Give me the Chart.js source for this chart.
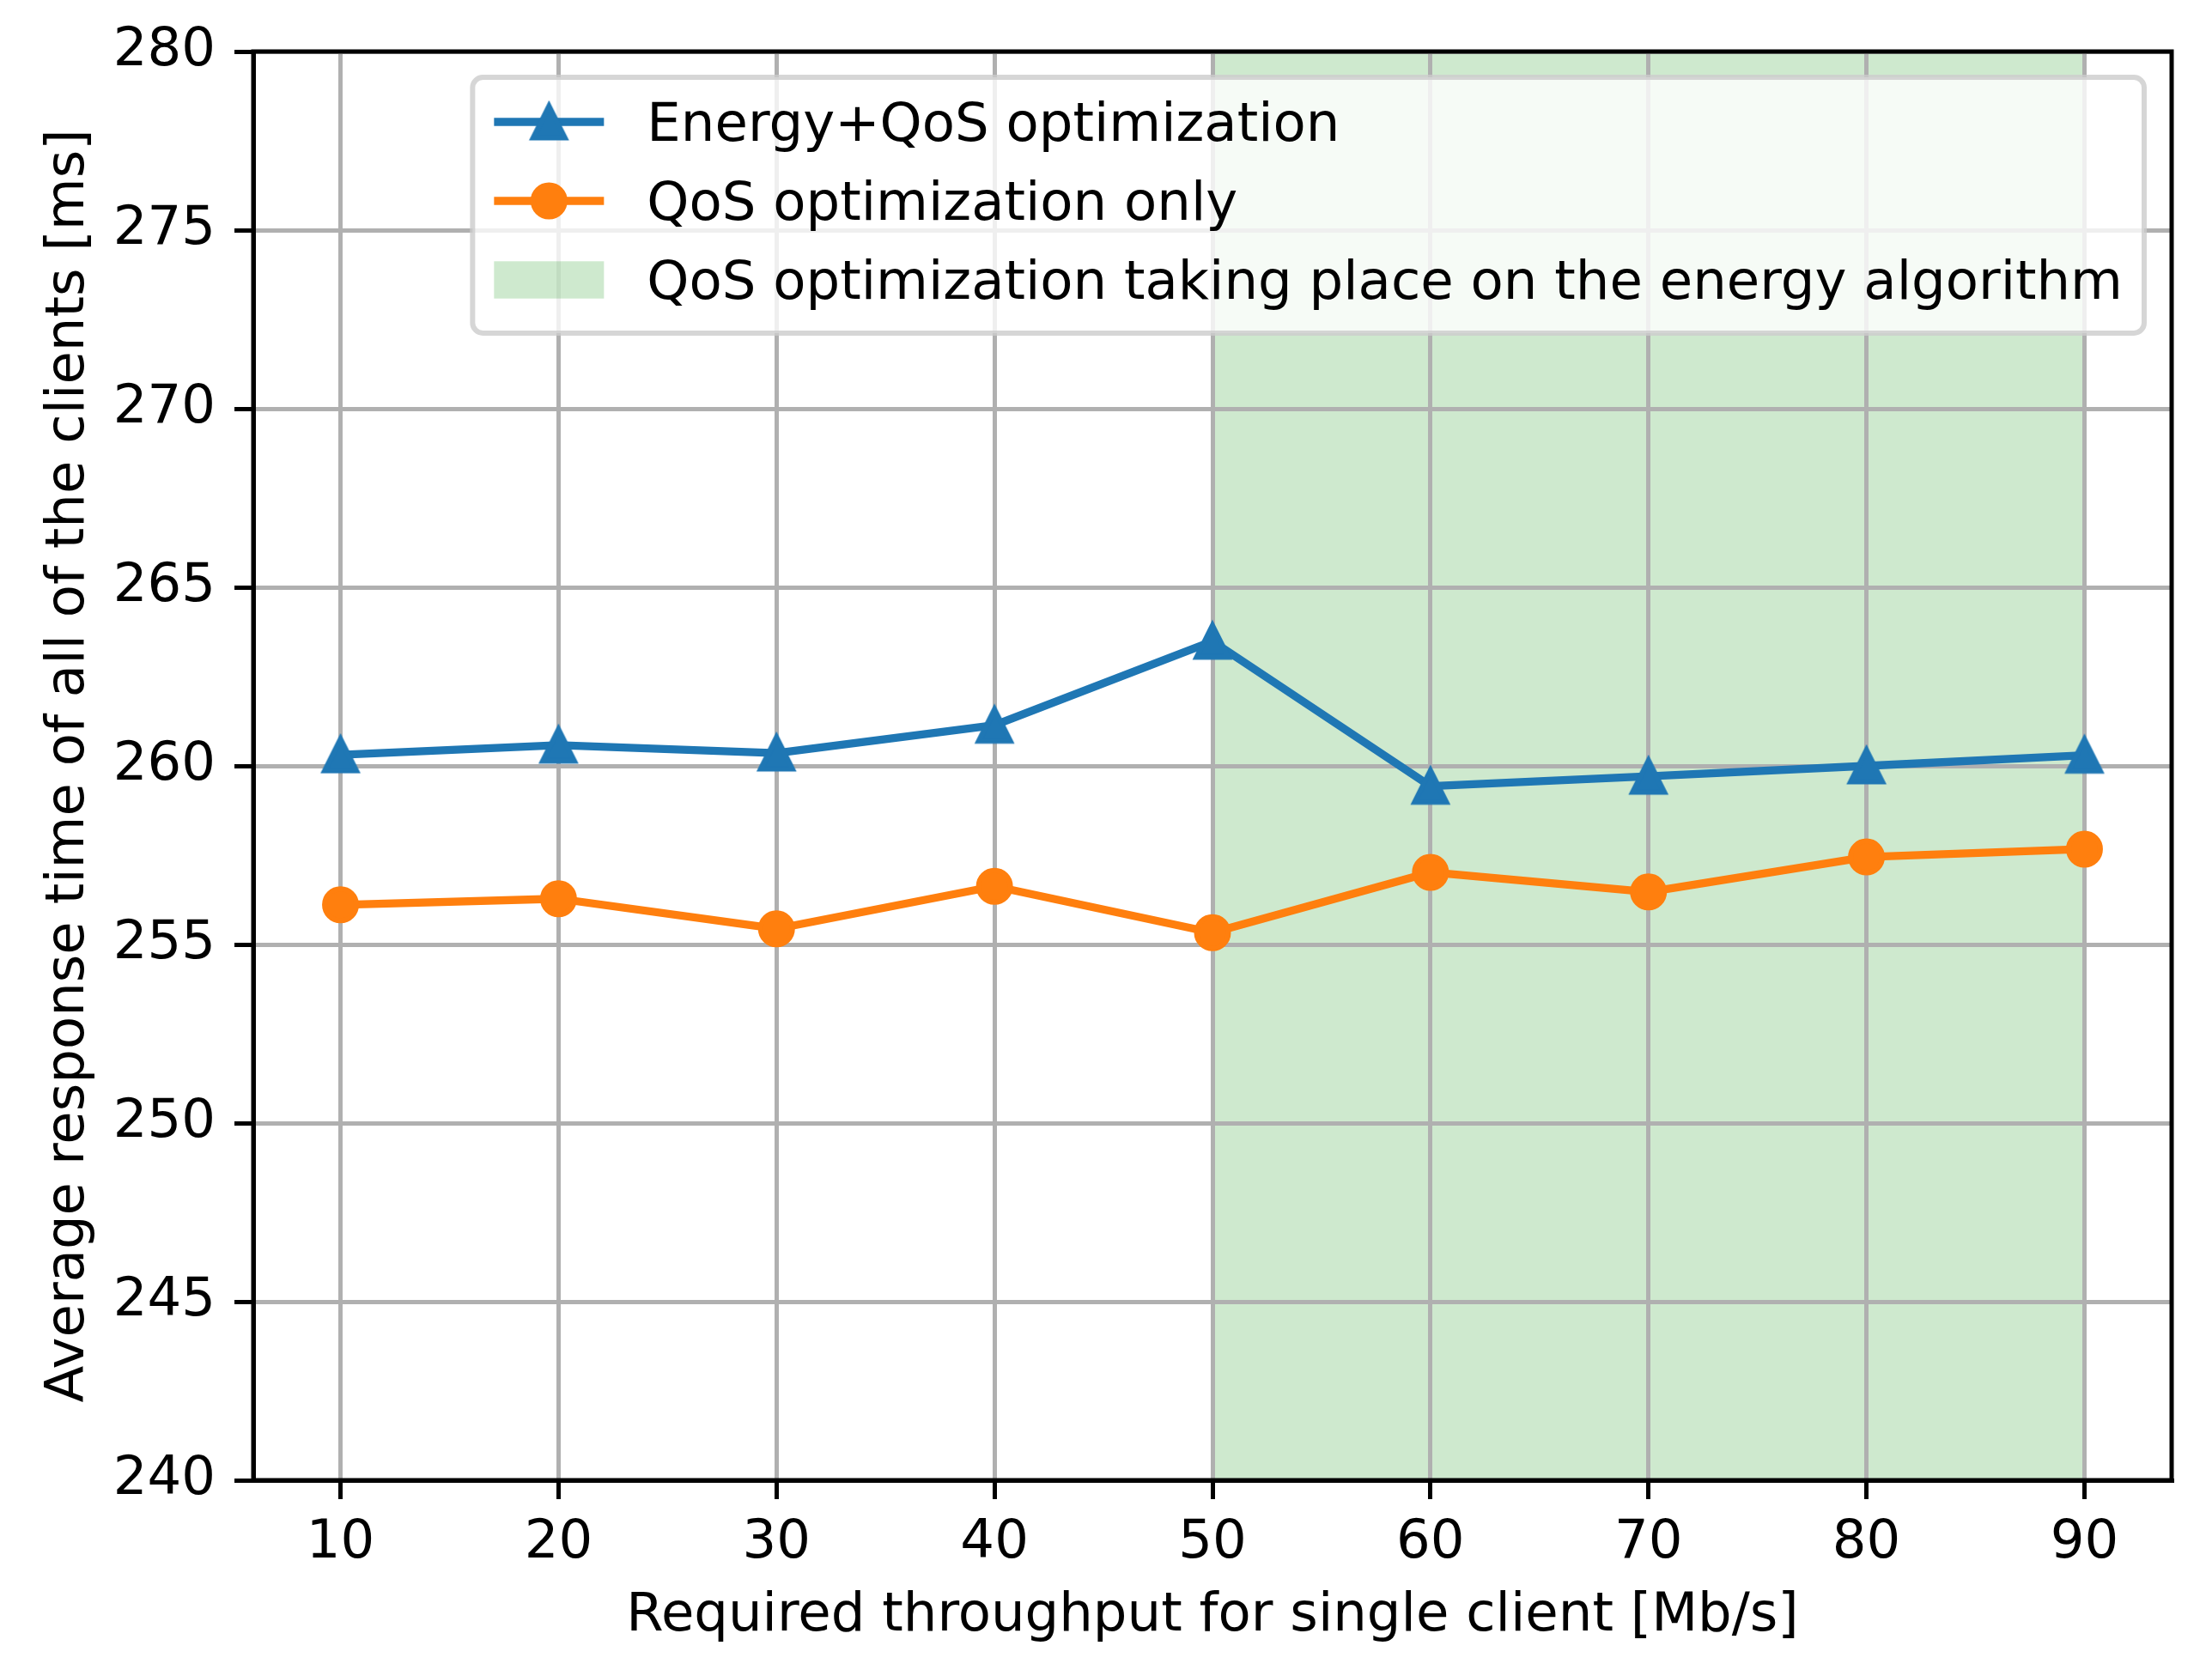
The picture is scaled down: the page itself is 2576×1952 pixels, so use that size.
<!DOCTYPE html>
<html>
<head>
<meta charset="utf-8">
<script src="https://cdn.jsdelivr.net/npm/chart.js@4.4.0/dist/chart.umd.min.js"></script>
<style>
  html, body { margin: 0; padding: 0; background: #fff; }
  canvas { display: block; }
</style>
</head>
<body>
<canvas id="chart" width="2576" height="1952" style="width:2576px;height:1952px"></canvas>
<script>
// data
const throughput = [10, 20, 30, 40, 50, 60, 70, 80, 90];
const energyQos = [260.31, 260.58, 260.36, 261.14, 263.49, 259.43, 259.71, 260.0, 260.3];
const qosOnly = [256.11, 256.28, 255.44, 256.63, 255.33, 257.02, 256.47, 257.45, 257.67];
const qosRegion = [50, 90];
const xTicks = [10, 20, 30, 40, 50, 60, 70, 80, 90];
const yTicks = [240, 245, 250, 255, 260, 265, 270, 275, 280];
const seriesLabels = [
  'Energy+QoS optimization',
  'QoS optimization only',
  'QoS optimization taking place on the energy algorithm'
];

const BLUE = '#1f77b4', ORANGE = '#ff7f0e', SHADE = 'rgba(44,160,44,0.23)';
const FS = 62.5;

Chart.defaults.font.family = "'DejaVu Sans'";
Chart.defaults.font.size = FS;
Chart.defaults.color = '#000';

// matplotlib style '^' marker
function triangleMarker(color) {
  const c = document.createElement('canvas');
  c.width = 64; c.height = 64;
  const g = c.getContext('2d');
  const h = 18.5;
  g.beginPath();
  g.moveTo(32, 32 - h);
  g.lineTo(32 + h, 32 + h);
  g.lineTo(32 - h, 32 + h);
  g.closePath();
  g.fillStyle = color;
  g.fill();
  g.lineWidth = 6;
  g.lineJoin = 'miter';
  g.strokeStyle = color;
  g.stroke();
  return c;
}
const tri = triangleMarker(BLUE);

const framePlugin = {
  id: 'frame',
  afterDatasetsDraw(chart) {
    const {ctx, chartArea: a} = chart;
    ctx.save();
    ctx.strokeStyle = '#000';
    ctx.lineWidth = 5;
    ctx.strokeRect(a.left, a.top, a.right - a.left, a.bottom - a.top);
    ctx.restore();
  }
};

const legendPlugin = {
  id: 'mplLegend',
  afterDraw(chart) {
    const {ctx, chartArea: a} = chart;
    ctx.save();
    ctx.font = FS + "px 'DejaVu Sans'";
    const pad = 25, handle = 128, textPad = 50;
    let tw = 0;
    seriesLabels.forEach(t => { tw = Math.max(tw, ctx.measureText(t).width); });
    const right = a.right - 32, top = a.top + 30;
    const left = right - (pad + handle + textPad + tw + pad);
    const bottom = top + 298;

    ctx.beginPath();
    ctx.roundRect(left, top, right - left, bottom - top, 12);
    ctx.fillStyle = 'rgba(255,255,255,0.8)';
    ctx.fill();
    ctx.lineWidth = 6;
    ctx.strokeStyle = 'rgba(204,204,204,0.8)';
    ctx.stroke();

    const x0 = left + pad, x1 = x0 + handle, xm = (x0 + x1) / 2;
    seriesLabels.forEach((t, i) => {
      const y = top + 52 + i * 92;
      if (i < 2) {
        const col = i === 0 ? BLUE : ORANGE;
        ctx.beginPath();
        ctx.moveTo(x0, y); ctx.lineTo(x1, y);
        ctx.lineWidth = 9.3; ctx.strokeStyle = col; ctx.stroke();
        if (i === 0) {
          ctx.drawImage(tri, xm - tri.width / 2, y - tri.height / 2);
        } else {
          ctx.beginPath();
          ctx.arc(xm, y, 18.5, 0, Math.PI * 2);
          ctx.fillStyle = col; ctx.fill();
          ctx.lineWidth = 6; ctx.stroke();
        }
      } else {
        ctx.fillStyle = SHADE;
        ctx.fillRect(x0, y - 21.7, handle, 43.4);
      }
      ctx.fillStyle = '#000';
      ctx.textBaseline = 'alphabetic';
      ctx.fillText(t, x1 + textPad, y + 22);
    });
    ctx.restore();
  }
};

const gridOpts = { color: '#b0b0b0', lineWidth: 5, tickColor: '#000', tickWidth: 5, tickLength: 22 };

new Chart(document.getElementById('chart').getContext('2d'), {
  type: 'line',
  data: {
    datasets: [
      {
        label: seriesLabels[0],
        data: throughput.map((x, i) => ({x: x, y: energyQos[i]})),
        borderColor: BLUE,
        backgroundColor: BLUE,
        borderWidth: 9.3,
        borderJoinStyle: 'round',
        pointStyle: tri,
        pointRadius: 20,
        fill: false,
        tension: 0
      },
      {
        label: seriesLabels[1],
        data: throughput.map((x, i) => ({x: x, y: qosOnly[i]})),
        borderColor: ORANGE,
        backgroundColor: ORANGE,
        borderWidth: 9.3,
        borderJoinStyle: 'round',
        pointStyle: 'circle',
        pointRadius: 18.5,
        pointBorderWidth: 6,
        fill: false,
        tension: 0
      },
      {
        label: seriesLabels[2],
        data: qosRegion.map(x => ({x: x, y: yTicks[yTicks.length - 1]})),
        borderColor: 'rgba(0,0,0,0)',
        borderWidth: 0,
        backgroundColor: SHADE,
        pointRadius: 0,
        fill: 'start'
      }
    ]
  },
  options: {
    responsive: false,
    animation: false,
    devicePixelRatio: 1,
    layout: { padding: { top: 60, right: 47, left: 0, bottom: 0 } },
    plugins: {
      legend: { display: false },
      tooltip: { enabled: false },
      filler: { drawTime: 'beforeDraw' }   // shading under the grid, like axvspan
    },
    scales: {
      x: {
        type: 'linear',
        min: 6, max: 94,
        afterBuildTicks: s => { s.ticks = xTicks.map(v => ({value: v})); },
        afterFit: s => { s.height = 228; },
        grid: gridOpts,
        border: { display: true, color: '#000', width: 5 },
        ticks: { color: '#000', padding: 14, maxRotation: 0, autoSkip: false, font: { size: FS } },
        title: {
          display: true,
          text: 'Required throughput for single client [Mb/s]',
          color: '#000',
          font: { size: FS },
          padding: { top: 0, bottom: 32 }
        }
      },
      y: {
        type: 'linear',
        min: 240, max: 280,
        afterBuildTicks: s => { s.ticks = yTicks.map(v => ({value: v})); },
        afterFit: s => { s.width = 295; },
        grid: gridOpts,
        border: { display: true, color: '#000', width: 5 },
        ticks: { color: '#000', padding: 22, font: { size: FS } },
        title: {
          display: true,
          text: 'Average response time of all of the clients [ms]',
          color: '#000',
          font: { size: FS },
          padding: { top: 43, bottom: 0 }
        }
      }
    }
  },
  plugins: [framePlugin, legendPlugin]
});
</script>
</body>
</html>
